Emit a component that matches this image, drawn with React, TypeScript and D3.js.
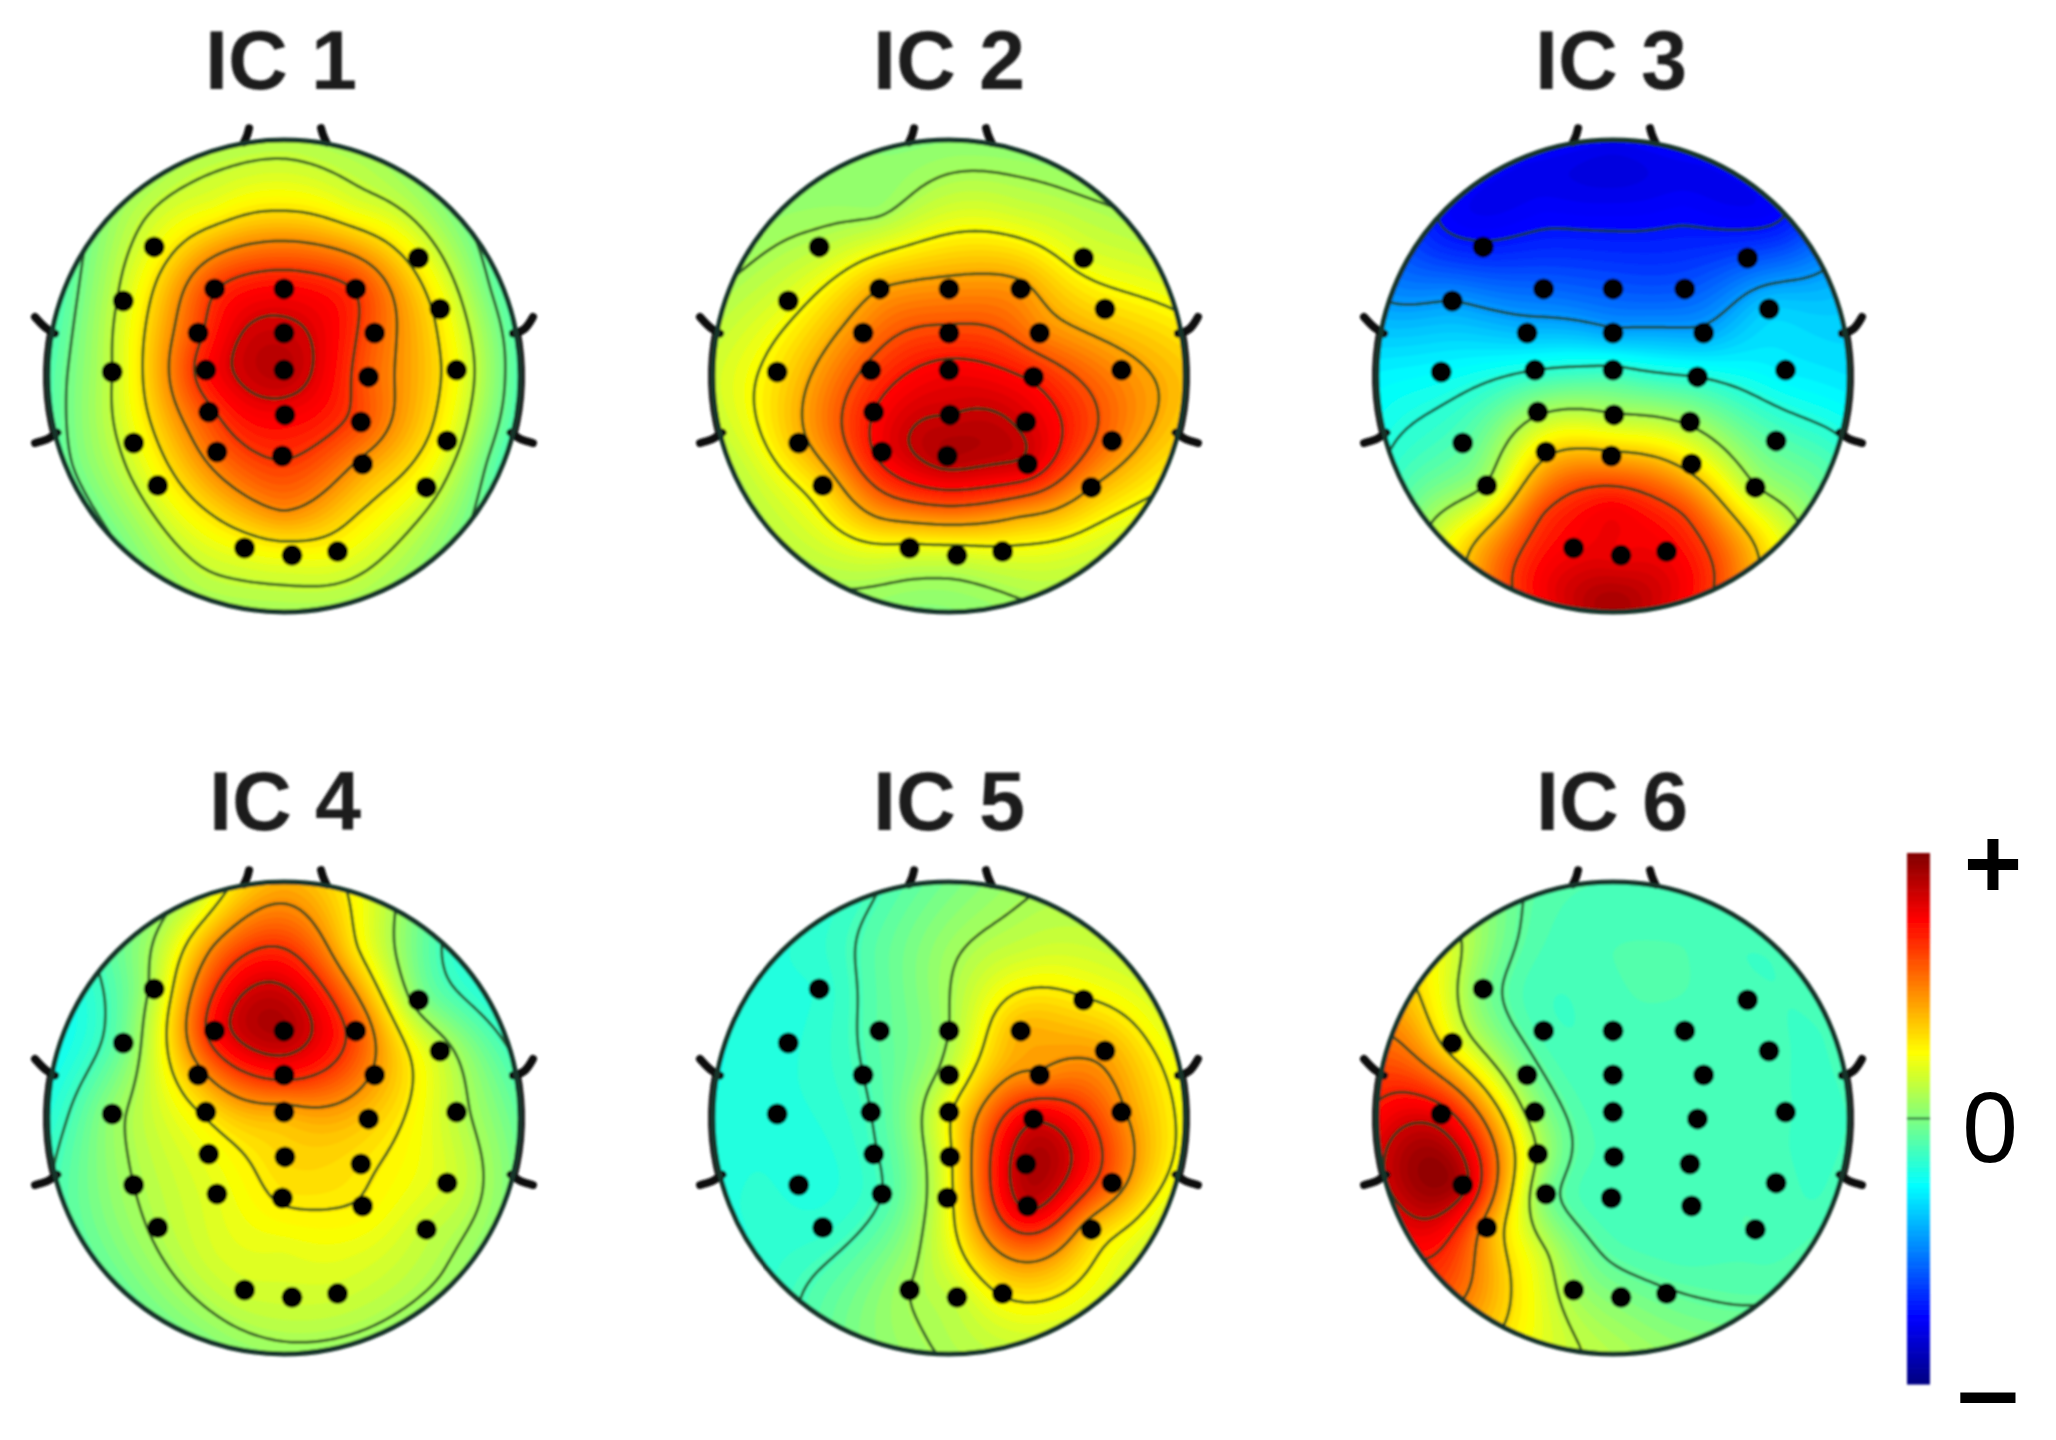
import React, { useMemo } from "react";
import * as d3 from "d3";

const titles = ["IC 1", "IC 2", "IC 3", "IC 4", "IC 5", "IC 6"];

// electrode positions, head radius = 1, y down
const electrodeX = [-0.55, 0.57, -0.681, -0.294, 0, 0.304, 0.661, -0.364, 0, 0.384, -0.728, -0.331, 0, 0.358, 0.731, -0.319, 0.004, 0.326, -0.637, -0.284, -0.007, 0.333, 0.691, -0.535, 0.603, -0.167, 0.034, 0.227];
const electrodeY = [-0.547, -0.5, -0.318, -0.369, -0.369, -0.369, -0.284, -0.182, -0.182, -0.182, -0.017, -0.025, -0.025, 0.004, -0.025, 0.153, 0.165, 0.195, 0.284, 0.322, 0.339, 0.373, 0.275, 0.464, 0.472, 0.729, 0.76, 0.744];

// extra places read off the maps where there is no electrode: rim (clockwise from the nose), then inner
const rimX = [0, 0.38, 0.71, 0.92, 1, 0.92, 0.71, 0.38, 0, -0.38, -0.71, -0.92, -1, -0.92, -0.71, -0.38];
const rimY = [-1, -0.92, -0.71, -0.38, 0, 0.38, 0.71, 0.92, 1, 0.92, 0.71, 0.38, 0, -0.38, -0.71, -0.92];
const innerX = [0, -0.3, 0.3, 0, -0.3, 0.3];
const innerY = [-0.7, -0.72, -0.72, 0.57, 0.58, 0.58];

// values on the -1..1 colour scale: 28 electrodes, 16 rim, 6 inner
const ic1Values = [
  0.22, 0.25, 0.17, 0.64, 0.74, 0.64, 0.27, 0.62, 0.85, 0.57, 0.14, 0.72, 0.89, 0.57, 0.24, 0.62, 0.76, 0.6, 0.2, 0.55, 0.66, 0.45, 0.22, 0.22, 0.2, 0.24, 0.24, 0.24,
  0.1, 0.08, 0, -0.08, -0.1, -0.1, 0, 0.08, 0.08, 0.08, -0.03, -0.05, -0.1, -0.08, 0.05, 0.1,
  0.31, 0.22, 0.2, 0.48, 0.32, 0.32,
];
const ic2Values = [
  0.12, 0.2, 0.2, 0.42, 0.47, 0.45, 0.32, 0.5, 0.62, 0.5, 0.3, 0.62, 0.76, 0.7, 0.47, 0.72, 0.85, 0.82, 0.38, 0.76, 0.9, 0.82, 0.52, 0.33, 0.42, 0.22, 0.18, 0.22,
  0.02, 0.04, 0.08, 0.2, 0.36, 0.3, 0.16, 0.1, 0.02, 0.07, 0.12, 0.12, 0.16, 0.09, 0.04, 0.03,
  0.17, 0.05, 0.14, 0.55, 0.45, 0.45,
];
const ic3Values = [
  -0.7, -0.6, -0.45, -0.55, -0.58, -0.58, -0.35, -0.38, -0.42, -0.42, -0.25, -0.18, -0.15, -0.18, -0.28, 0.07, 0.1, 0.07, -0.08, 0.33, 0.4, 0.3, -0.08, 0.1, 0.1, 0.76, 0.78, 0.76,
  -0.76, -0.76, -0.74, -0.4, -0.3, -0.1, 0.22, 0.68, 0.92, 0.68, 0.22, -0.15, -0.27, -0.5, -0.74, -0.76,
  -0.76, -0.76, -0.75, 0.76, 0.62, 0.62,
];
const ic4Values = [
  0.12, 0.03, -0.03, 0.73, 0.9, 0.6, 0.14, 0.42, 0.7, 0.45, 0.04, 0.3, 0.42, 0.36, 0.12, 0.22, 0.33, 0.3, 0.08, 0.2, 0.29, 0.27, 0.17, 0.1, 0.14, 0.16, 0.16, 0.16,
  0.4, 0.18, -0.15, -0.14, -0.06, 0.02, 0.05, 0.06, 0.05, 0, -0.05, -0.08, -0.18, -0.22, -0.05, 0.15,
  0.68, 0.48, 0.3, 0.2, 0.17, 0.2,
];
const ic5Values = [
  -0.17, 0.28, -0.18, -0.07, 0.08, 0.4, 0.42, -0.11, 0.14, 0.48, -0.18, -0.11, 0.25, 0.8, 0.48, -0.12, 0.25, 0.9, -0.18, -0.11, 0.22, 0.84, 0.55, -0.16, 0.38, 0.08, 0.14, 0.28,
  -0.02, 0.09, 0.14, 0.2, 0.24, 0.2, 0.18, 0.17, 0.09, 0, -0.14, -0.18, -0.2, -0.2, -0.18, -0.13,
  0.06, -0.07, 0.14, 0.2, -0.03, 0.5,
];
const ic6Values = [
  0, -0.11, 0.25, -0.11, -0.11, -0.11, -0.11, 0, -0.12, -0.12, 0.76, 0.06, -0.12, -0.12, -0.12, 0.12, -0.11, -0.12, 0.88, 0, -0.12, -0.11, -0.11, 0.45, -0.1, 0.07, 0, -0.05,
  -0.1, -0.11, -0.11, -0.11, -0.12, -0.11, -0.08, 0, 0.1, 0.25, 0.6, 0.82, 0.74, 0.48, 0.2, -0.06,
  -0.1, -0.1, -0.1, -0.08, 0.16, -0.11,
];
const allValues = [ic1Values, ic2Values, ic3Values, ic4Values, ic5Values, ic6Values];

// contour lines of each map
const ic1Levels = [-0.03, 0.14, 0.31, 0.48, 0.65, 0.82];
const ic2Levels = [0.08, 0.25, 0.42, 0.59, 0.72, 0.85];
const ic3Levels = [-0.72, -0.45, -0.18, 0.09, 0.36, 0.63];
const ic4Levels = [-0.12, 0.08, 0.28, 0.47, 0.66, 0.82];
const ic5Levels = [-0.11, 0.08, 0.27, 0.46, 0.65, 0.82];
const ic6Levels = [-0.06, 0.13, 0.32, 0.51, 0.7, 0.84];
const allLevels = [ic1Levels, ic2Levels, ic3Levels, ic4Levels, ic5Levels, ic6Levels];

const colorTickLabels = ["+", "0", "\u2212"];

const width = 2056;
const height = 1440;
const R = 236;
const headX = [284, 949, 1613];
const headY = [376, 1118];
const titleX = [281, 949, 1611, 285, 949, 1612];

const jet = d3.scaleLinear<string>()
  .domain([-1, -0.75, -0.25, 0.25, 0.75, 1])
  .range(["#000080", "#0000ff", "#00ffff", "#ffff00", "#ff0000", "#800000"])
  .clamp(true);

const siteX = [...electrodeX, ...rimX, ...innerX];
const siteY = [...electrodeY, ...rimY, ...innerY];

const green = (d: number) => (d === 0 ? 0 : d * d * (Math.log(d) - 1));

// biharmonic spline weights, like griddata v4 in topoplot
function solveWeights(values: number[]) {
  const n = values.length;
  const A = values.map((v, i) => [
    ...values.map((_, j) => green(Math.hypot(siteX[i] - siteX[j], siteY[i] - siteY[j]))),
    v,
  ]);
  for (let c = 0; c < n; c++) {
    let p = c;
    for (let r = c + 1; r < n; r++) if (Math.abs(A[r][c]) > Math.abs(A[p][c])) p = r;
    [A[c], A[p]] = [A[p], A[c]];
    for (let r = c + 1; r < n; r++) {
      const f = A[r][c] / A[c][c];
      for (let k = c; k <= n; k++) A[r][k] -= f * A[c][k];
    }
  }
  const w = new Array(n).fill(0);
  for (let r = n - 1; r >= 0; r--) {
    let s = A[r][n];
    for (let k = r + 1; k < n; k++) s -= A[r][k] * w[k];
    w[r] = s / A[r][r];
  }
  return w;
}

const gridN = 150;
const gridEdge = 1.1;
const gridStep = (2 * gridEdge) / (gridN - 1);

function fieldOf(values: number[]) {
  const w = solveWeights(values);
  const out = new Float64Array(gridN * gridN);
  for (let j = 0; j < gridN; j++) {
    const y = -gridEdge + j * gridStep;
    for (let i = 0; i < gridN; i++) {
      const x = -gridEdge + i * gridStep;
      let s = 0;
      for (let k = 0; k < w.length; k++) s += w[k] * green(Math.hypot(x - siteX[k], y - siteY[k]));
      out[j * gridN + i] = Math.max(-1, Math.min(1, s));
    }
  }
  return out;
}

const bandLevels = d3.range(-1, 1, 0.025);
const toPath = d3.geoPath(
  d3.geoIdentity()
    .scale(R * gridStep)
    .translate([-R * gridEdge - 0.5 * R * gridStep, -R * gridEdge - 0.5 * R * gridStep]) as any
);

const tickLine = d3.line<number[]>().curve(d3.curveBasis).x(d => d[0] * R).y(d => d[1] * R);
const tickMarks = [
  [[-1.055, -0.25], [-1.01, -0.2], [-0.97, -0.18]],
  [[-1.055, 0.284], [-1.0, 0.27], [-0.96, 0.24]],
  [[1.055, -0.25], [1.02, -0.19], [0.97, -0.18]],
  [[1.055, 0.284], [1.0, 0.27], [0.96, 0.24]],
  [[-0.148, -1.05], [-0.155, -1.02], [-0.17, -0.99]],
  [[0.157, -1.05], [0.165, -1.02], [0.18, -0.99]],
];
const earArc = d3.arc().innerRadius(R).outerRadius(R + 5);

function Head({ index }: { index: number }) {
  const { bands, lines } = useMemo(() => {
    const field = fieldOf(allValues[index]);
    const contour = d3.contours().size([gridN, gridN]);
    return {
      bands: bandLevels.map(t => ({ t, d: toPath(contour.contour(field as any, t)) })),
      lines: allLevels[index].map(t => toPath(contour.contour(field as any, t))),
    };
  }, [index]);

  const cx = headX[index % 3];
  const cy = headY[Math.floor(index / 3)];

  return (
    <g transform={`translate(${cx},${cy})`} filter="url(#soft)">
      <clipPath id={`head${index}`}><circle r={R} /></clipPath>
      <g clipPath={`url(#head${index})`}>
        {bands.map(b => <path key={b.t} d={b.d || ""} fill={jet(b.t + 0.0125)} />)}
        {lines.map((d, i) => (
          <path key={i} d={d || ""} fill="none" stroke="#1f3f1f" strokeOpacity={0.78} strokeWidth={3} />
        ))}
      </g>
      <path d={earArc({ startAngle: -Math.PI / 2 - 0.26, endAngle: -Math.PI / 2 + 0.2 } as any) || ""} fill="#222" />
      <path d={earArc({ startAngle: Math.PI / 2 - 0.2, endAngle: Math.PI / 2 + 0.26 } as any) || ""} fill="#222" />
      {tickMarks.map((m, i) => (
        <path key={i} d={tickLine(m as any) || ""} fill="none" stroke="#111" strokeWidth={8} strokeLinecap="round" />
      ))}
      <circle r={R} fill="none" stroke="#17352a" strokeWidth={5} />
      {electrodeX.map((x, i) => (
        <circle key={i} cx={x * R} cy={electrodeY[i] * R} r={10.5} fill="#050505" />
      ))}
    </g>
  );
}

function ColorBar() {
  const y = d3.scaleLinear().domain([-1, 1]).range([1384, 853]);
  const steps = d3.range(-1, 1, 0.02);
  return (
    <g>
      <g filter="url(#soft)">
        {steps.map(v => (
          <rect key={v} x={1907} width={23} y={y(v + 0.02)} height={y(v) - y(v + 0.02) + 0.6} fill={jet(v + 0.01)} />
        ))}
        <line x1={1907} x2={1930} y1={y(0)} y2={y(0)} stroke="#2c6a38" strokeWidth={2} />
      </g>
      <g fontFamily="Liberation Sans, Arial, sans-serif" textAnchor="middle" fill="#000">
        <text x={1993} y={898} fontSize={100} fontWeight="bold">{colorTickLabels[0]}</text>
        <text x={1990} y={1162} fontSize={100}>{colorTickLabels[1]}</text>
        <text transform="translate(1988,1421) scale(1.45,1)" fontSize={70} fontWeight="bold" stroke="#000" strokeWidth={3}>
          {colorTickLabels[2]}
        </text>
      </g>
    </g>
  );
}

export default function App() {
  return (
    <svg width={width} height={height} style={{ position: "absolute", left: 0, top: 0, background: "#fff" }}>
      <defs>
        <filter id="soft" x="-10%" y="-10%" width="120%" height="120%">
          <feGaussianBlur stdDeviation={1.3} />
        </filter>
      </defs>
      {titles.map((t, i) => (
        <text
          key={t}
          x={titleX[i]}
          y={i < 3 ? 89 : 830}
          textAnchor="middle"
          fontFamily="Liberation Sans, Arial, sans-serif"
          fontWeight="bold"
          fontSize={83}
          fill="#1c1c1c"
          filter="url(#soft)"
        >
          {t}
        </text>
      ))}
      {titles.map((_, i) => <Head key={i} index={i} />)}
      <ColorBar />
    </svg>
  );
}
